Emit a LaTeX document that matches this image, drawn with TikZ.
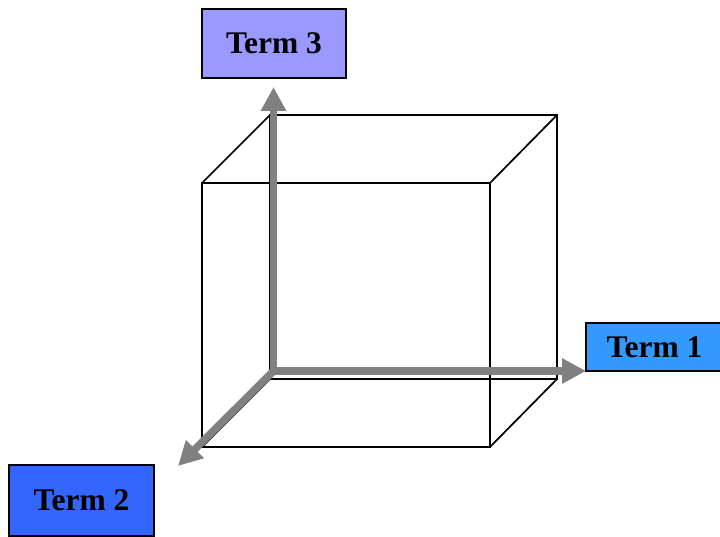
\documentclass[tikz,border=0pt]{standalone}
\usepackage{fontspec}
\setmainfont{Liberation Serif}
\usetikzlibrary{arrows.meta}
\definecolor{termA}{HTML}{3399FF}
\definecolor{termB}{HTML}{3366FF}
\definecolor{termC}{HTML}{9999FF}
\definecolor{axisgray}{HTML}{808080}
\tikzset{
  termbox/.style={draw=black, line width=1.8pt, inner sep=0pt, font=\bfseries\fontsize{31.5}{36}\selectfont},
  cubeline/.style={draw=black, line width=1.7pt},
  axisarrow/.style={draw=axisgray, line width=7.5pt, -{Triangle[length=24pt,width=24pt]}, shorten >=0pt}
}
\begin{document}
\begin{tikzpicture}[x=1pt,y=-1pt]
\useasboundingbox (0,0) rectangle (720,537);
\clip (0,0) rectangle (720,537);
% cube corners
\coordinate (b1) at (270,115);
\coordinate (b2) at (557,115);
\coordinate (b3) at (557,379);
\coordinate (b4) at (270,379);
\coordinate (f1) at (202,183);
\coordinate (f2) at (490,183);
\coordinate (f3) at (490,447);
\coordinate (f4) at (202,447);
% cube
\draw[cubeline] (b1) -- (b2) -- (b3) -- (b4) -- cycle;
\draw[cubeline] (f1) -- (f2) -- (f3) -- (f4) -- cycle;
\draw[cubeline] (b1) -- (f1);
\draw[cubeline] (b2) -- (f2);
\draw[cubeline] (b3) -- (f3);
\draw[cubeline] (b4) -- (f4);
% axes
\coordinate (o) at (273.5,371);
\coordinate (t3) at (273.5,87);
\coordinate (t1) at (586,371);
\coordinate (t2) at (178,466);
\draw[axisarrow] (o) -- (t3);
\draw[axisarrow] (o) -- (t1);
\draw[axisarrow] (o) -- (t2);
\draw[draw=axisgray, line width=7.5pt, line join=miter] (273.5,300) -- (o) -- (330,371);
% term boxes
\node[termbox, fill=termC, minimum width=144pt, minimum height=69pt] (term3) at (274,43.5) {Term 3};
\node[termbox, fill=termA, minimum width=137pt, minimum height=48pt] (term1) at (654.5,347) {Term 1};
\node[termbox, fill=termB, minimum width=145pt, minimum height=71pt] (term2) at (81.5,500.5) {Term 2};
\end{tikzpicture}
\end{document}
